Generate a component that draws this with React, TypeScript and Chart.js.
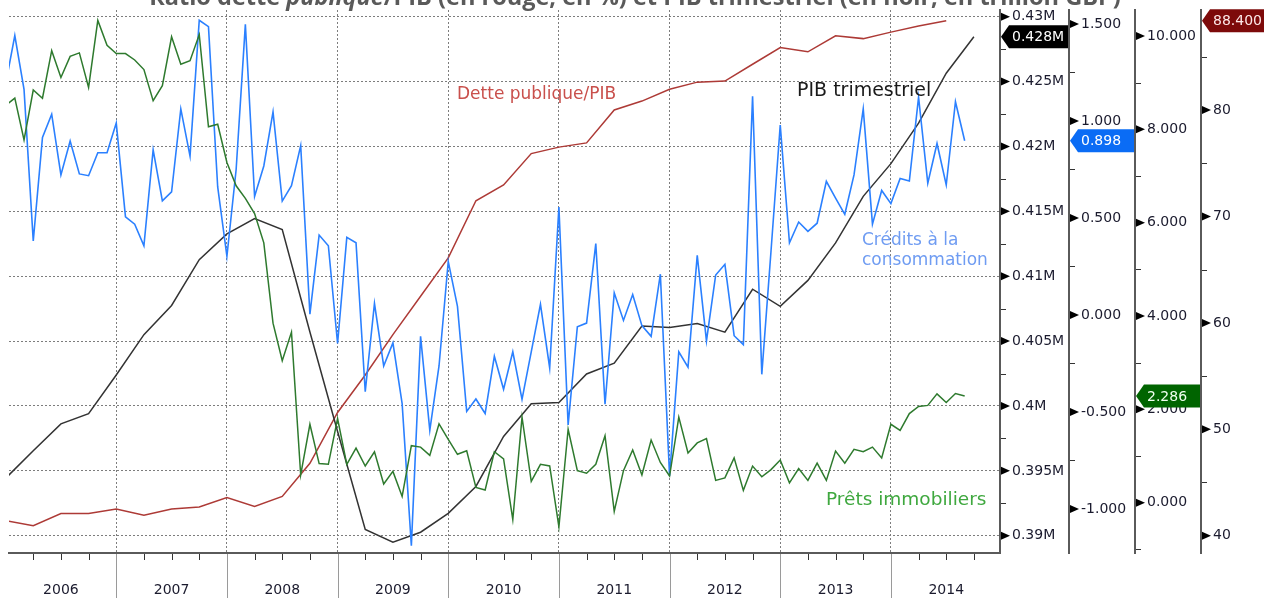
import { useEffect, useRef } from 'react';
import { Chart, registerables } from 'chart.js';

Chart.register(...registerables);

// ---------- data ----------
const years = ['2006', '2007', '2008', '2009', '2010', '2011', '2012', '2013', '2014'];

// Crédits à la consommation, monthly from Jan 2006
const creditsMonthly = [
  1.19, 1.44, 1.163, 0.381, 0.915, 1.035, 0.722, 0.897, 0.727, 0.718, 0.836, 0.836,
  0.989, 0.506, 0.468, 0.357, 0.851, 0.588, 0.635, 1.062, 0.819, 1.519, 1.486, 0.66,
  0.302, 0.75, 1.498, 0.611, 0.768, 1.047, 0.587, 0.666, 0.873, 0.004, 0.412, 0.357,
  -0.147, 0.4, 0.372, -0.396, 0.059, -0.263, -0.144, -0.457, -1.19, -0.11, -0.595, -0.263,
  0.276, 0.044, -0.497, -0.433, -0.508, -0.213, -0.383, -0.19, -0.435, -0.19, 0.055, -0.273,
  0.556, -0.567, -0.061, -0.042, 0.368, -0.46, 0.114, -0.028, 0.105, -0.055, -0.11, 0.21,
  -0.83, -0.19, -0.269, 0.307, -0.134, 0.206, 0.261, -0.107, -0.153, 1.127, -0.306, 0.33,
  0.979, 0.372, 0.479, 0.431, 0.473, 0.689, 0.602, 0.519, 0.722, 1.062, 0.468, 0.642,
  0.574, 0.703, 0.69, 1.123, 0.679, 0.884, 0.67, 1.099, 0.898,
];

// Prêts immobiliers, monthly from Jan 2006
const pretsMonthly = [
  8.51, 8.667, 7.772, 8.843, 8.667, 9.685, 9.11, 9.563, 9.638, 8.897, 10.334, 9.8,
  9.623, 9.623, 9.486, 9.28, 8.614, 8.935, 9.983, 9.394, 9.47, 10.03, 8.054, 8.108,
  7.29, 6.79, 6.52, 6.195, 5.567, 3.846, 3.043, 3.655, 0.594, 1.68, 0.838, 0.823,
  1.802, 0.823, 1.168, 0.786, 1.091, 0.401, 0.671, 0.135, 1.221, 1.191, 1.013, 1.688,
  1.358, 1.037, 1.114, 0.326, 0.272, 1.091, 0.938, -0.362, 1.834, 0.456, 0.823, 0.786,
  -0.516, 1.573, 0.686, 0.632, 0.823, 1.436, -0.186, 0.686, 1.129, 0.594, 1.343, 0.861,
  0.572, 1.834, 1.067, 1.281, 1.374, 0.478, 0.531, 0.96, 0.264, 0.784, 0.555, 0.709,
  0.915, 0.424, 0.731, 0.478, 0.846, 0.478, 1.106, 0.846, 1.144, 1.091, 1.191, 0.96,
  1.68, 1.549, 1.909, 2.063, 2.085, 2.331, 2.147, 2.338, 2.286,
];

// PIB trimestriel, quarterly from Q1 2006
const pibQuarterly = [
  0.39443, 0.39655, 0.39862, 0.39941, 0.40239, 0.4055, 0.40775, 0.41128,
  0.41326, 0.41444, 0.4136, 0.4057, 0.39803, 0.39049, 0.3895, 0.39027,
  0.39173, 0.3938, 0.39765, 0.40018, 0.40027, 0.40247, 0.4033, 0.40616,
  0.40605, 0.40635, 0.40569, 0.409, 0.40768, 0.40968, 0.41257, 0.41616,
  0.41868, 0.4218, 0.42565, 0.42846,
];

// Dette publique / PIB (%), quarterly from Q1 2006
const detteQuarterly = [
  41.41, 40.94, 42.08, 42.08, 42.51, 41.91, 42.51, 42.69,
  43.59, 42.75, 43.69, 46.8, 51.58, 55.1, 58.9, 62.5,
  66.11, 71.48, 72.96, 75.91, 76.52, 76.92, 80.01, 80.85,
  81.96, 82.63, 82.73, 84.31, 85.88, 85.48, 86.99, 86.72,
  87.33, 87.9, 88.4,
];

const pibMajorTicks = [0.39, 0.395, 0.4, 0.405, 0.41, 0.415, 0.42, 0.425, 0.43];
const pibTickLabels = ['0.39M', '0.395M', '0.4M', '0.405M', '0.41M', '0.415M', '0.42M', '0.425M', '0.43M'];
const creditMajorTicks = [-1, -0.5, 0, 0.5, 1, 1.5];
const creditTickLabels = ['-1.000', '-0.500', '0.000', '0.500', '1.000', '1.500'];
const pretMajorTicks = [0, 2, 4, 6, 8, 10];
const pretTickLabels = ['0.000', '2.000', '4.000', '6.000', '8.000', '10.000'];
const detteMajorTicks = [40, 50, 60, 70, 80];
const detteTickLabels = ['40', '50', '60', '70', '80'];

const titleParts = [
  { text: 'Ratio dette ', italic: false },
  { text: 'publique', italic: true },
  { text: '/PIB (en rouge, en %) et PIB trimestriel (en noir, en trillion GBP)', italic: false },
];
const labelDette = 'Dette publique/PIB';
const labelPib = 'PIB trimestriel';
const labelCredits = ['Crédits à la', 'consommation'];
const labelPrets = 'Prêts immobiliers';

// ---------- styling ----------
const C_BLUE = '#2b80ff';
const C_GREEN = '#2e7a2e';
const C_BLACK = '#333333';
const C_RED = '#ad3a36';
const AXIS_TXT = '#1b1b2e';
const FONT = '"DejaVu Sans"';
const GRID = '#7d7d7d';

const withMinors = (majors: number[], min: number, max: number) => {
  const step = majors[1] - majors[0];
  const out: number[] = [];
  for (let i = -1; i < majors.length; i++) {
    const base = i < 0 ? majors[0] - step : majors[i];
    const mid = base + step / 2;
    if (mid >= min && mid <= max) out.push(mid);
  }
  return majors.concat(out).sort((a, b) => a - b);
};

const isIn = (arr: number[], v: number) => arr.findIndex((m) => Math.abs(m - v) < 1e-9);

function yAxis(
  min: number, max: number, majors: number[], labels: string[],
  weight: number, width: number, grid: boolean,
) {
  const all = withMinors(majors, min, max);
  return {
    type: 'linear' as const,
    position: 'right' as const,
    min, max, weight,
    afterBuildTicks: (s: any) => { s.ticks = all.map((v) => ({ value: v })); },
    afterFit: (s: any) => { s.width = width; s.paddingTop = 0; s.paddingBottom = 0; },
    ticks: {
      autoSkip: false,
      padding: 12,
      color: AXIS_TXT,
      font: { family: FONT, size: 14 },
      callback: (v: any) => { const i = isIn(majors, Number(v)); return i >= 0 ? labels[i] : ''; },
    },
    grid: {
      display: grid,
      drawOnChartArea: grid,
      drawTicks: false,
      lineWidth: 1,
      color: (c: any) => (c.tick && isIn(majors, c.tick.value) >= 0 ? GRID : 'rgba(0,0,0,0)'),
    },
    border: { display: true, color: '#5a5a5a', width: 2, dash: [2, 2] },
  };
}

const quarterTicks: number[] = [];
for (let m = 3; m < 108; m += 3) quarterTicks.push(m);

const overlay = {
  id: 'overlay',
  afterDraw(chart: any) {
    const ctx: CanvasRenderingContext2D = chart.ctx;
    const area = chart.chartArea;
    const H = chart.height;
    const W = chart.width;
    const xs = chart.scales.x;
    ctx.save();

    // x-axis quarter ticks & year separators
    for (const m of quarterTicks) {
      const px = Math.round(xs.getPixelForValue(m)) + 0.5;
      ctx.beginPath();
      if (m % 12 === 0) {
        ctx.strokeStyle = '#9a9a9a';
        ctx.lineWidth = 1;
        ctx.moveTo(px, area.bottom + 1);
        ctx.lineTo(px, H);
      } else {
        ctx.strokeStyle = '#333';
        ctx.lineWidth = 1;
        ctx.moveTo(px, area.bottom + 1);
        ctx.lineTo(px, area.bottom + 7);
      }
      ctx.stroke();
    }

    // y tick marks: triangles for majors, short lines for minors
    const axes: [string, number[]][] = [
      ['yPib', pibMajorTicks], ['yCred', creditMajorTicks], ['yPret', pretMajorTicks], ['yDette', detteMajorTicks],
    ];
    for (const [id, majors] of axes) {
      const s = chart.scales[id];
      for (const t of s.ticks) {
        const py = s.getPixelForValue(t.value);
        if (isIn(majors, t.value) >= 0) {
          ctx.fillStyle = '#000';
          ctx.beginPath();
          ctx.moveTo(s.left + 1, py - 4);
          ctx.lineTo(s.left + 10, py);
          ctx.lineTo(s.left + 1, py + 4);
          ctx.closePath();
          ctx.fill();
        } else {
          ctx.strokeStyle = '#333';
          ctx.lineWidth = 1;
          ctx.beginPath();
          ctx.moveTo(s.left + 1, Math.round(py) + 0.5);
          ctx.lineTo(s.left + 6, Math.round(py) + 0.5);
          ctx.stroke();
        }
      }
    }

    // last-value badges
    const badge = (id: string, right: number, value: number, text: string, fill: string, txt: string) => {
      const s = chart.scales[id];
      const y = s.getPixelForValue(value);
      const l = s.left + 1;
      const h = 11.5;
      ctx.fillStyle = fill;
      ctx.beginPath();
      ctx.moveTo(l, y);
      ctx.lineTo(l + 8, y - h);
      ctx.lineTo(right, y - h);
      ctx.lineTo(right, y + h);
      ctx.lineTo(l + 8, y + h);
      ctx.closePath();
      ctx.fill();
      ctx.fillStyle = txt;
      ctx.font = `14px ${FONT}`;
      ctx.textAlign = 'left';
      ctx.textBaseline = 'middle';
      ctx.fillText(text, s.left + 12, y + 1);
    };
    const lastPib = pibQuarterly[pibQuarterly.length - 1];
    const lastCred = creditsMonthly[creditsMonthly.length - 1];
    const lastPret = pretsMonthly[pretsMonthly.length - 1];
    const lastDette = detteQuarterly[detteQuarterly.length - 1];
    badge('yPib', chart.scales.yCred.left - 1, lastPib, lastPib.toFixed(3) + 'M', '#000000', '#ffffff');
    badge('yCred', chart.scales.yPret.left - 1, lastCred, lastCred.toFixed(3), '#0a6cf5', '#ffffff');
    badge('yPret', chart.scales.yDette.left - 1, lastPret, lastPret.toFixed(3), '#006400', '#f0fff0');
    badge('yDette', W, lastDette, lastDette.toFixed(3), '#7d0a0a', '#fde8e8');

    // series labels
    ctx.textAlign = 'left';
    ctx.textBaseline = 'middle';
    ctx.font = `17px ${FONT}`;
    ctx.fillStyle = '#c9504c';
    ctx.fillText(labelDette, 457, 95);
    ctx.font = `19px ${FONT}`;
    ctx.fillStyle = '#1a1a1a';
    ctx.fillText(labelPib, 797, 91);
    ctx.font = `17px ${FONT}`;
    ctx.fillStyle = '#6f9cf2';
    ctx.fillText(labelCredits[0], 862, 241);
    ctx.fillText(labelCredits[1], 862, 261);
    ctx.font = `18.5px ${FONT}`;
    ctx.fillStyle = '#3fa83f';
    ctx.fillText(labelPrets, 826, 500);

    // title (mostly cut off at the top)
    const base = 21;
    const fontFor = (it: boolean, size: number) => `${it ? 'italic ' : ''}bold ${size}px "Open Sans"`;
    let total = 0;
    for (const p of titleParts) { ctx.font = fontFor(p.italic, base); total += ctx.measureText(p.text).width; }
    const size = base * 972 / total;
    let tw = 0;
    const widths: number[] = [];
    for (const p of titleParts) { ctx.font = fontFor(p.italic, size); const w = ctx.measureText(p.text).width; widths.push(w); tw += w; }
    let x = 635 - tw / 2;
    ctx.fillStyle = '#5a5a5a';
    ctx.textBaseline = 'alphabetic';
    titleParts.forEach((p, i) => {
      ctx.font = fontFor(p.italic, size);
      ctx.fillText(p.text, x, 5);
      x += widths[i];
    });

    ctx.restore();
  },
};

export default function App() {
  const ref = useRef<HTMLCanvasElement | null>(null);

  useEffect(() => {
    if (!ref.current) return;
    const chart = new Chart(ref.current, {
      type: 'line',
      data: {
        datasets: [
          {
            label: 'Prêts immobiliers',
            data: pretsMonthly.map((v, i) => ({ x: i, y: v })),
            yAxisID: 'yPret', borderColor: C_GREEN, borderWidth: 1.5, pointRadius: 0, tension: 0, order: 0,
          },
          {
            label: 'Crédits à la consommation',
            data: creditsMonthly.map((v, i) => ({ x: i, y: v })),
            yAxisID: 'yCred', borderColor: C_BLUE, borderWidth: 1.6, pointRadius: 0, tension: 0, order: 1,
          },
          {
            label: 'PIB trimestriel',
            data: pibQuarterly.map((v, i) => ({ x: i * 3, y: v })),
            yAxisID: 'yPib', borderColor: C_BLACK, borderWidth: 1.5, pointRadius: 0, tension: 0, order: 2,
          },
          {
            label: 'Dette publique/PIB',
            data: detteQuarterly.map((v, i) => ({ x: i * 3, y: v })),
            yAxisID: 'yDette', borderColor: C_RED, borderWidth: 1.5, pointRadius: 0, tension: 0, order: 3,
          },
        ],
      },
      options: {
        animation: false,
        responsive: false,
        maintainAspectRatio: false,
        layout: { padding: { left: 9, top: 10, right: 0, bottom: 0 } },
        plugins: { legend: { display: false }, tooltip: { enabled: false }, title: { display: false } },
        scales: {
          x: {
            type: 'linear',
            min: 0.37,
            max: 107.83,
            afterBuildTicks: (s: any) => { s.ticks = quarterTicks.map((v) => ({ value: v })); },
            afterFit: (s: any) => { s.height = 45; s.paddingLeft = 0; s.paddingRight = 0; },
            ticks: {
              autoSkip: false,
              maxRotation: 0,
              minRotation: 0,
              padding: 29,
              color: AXIS_TXT,
              font: { family: FONT, size: 14 },
              callback: (v: any) => (Number(v) % 12 === 6 ? years[(Number(v) - 6) / 12] : ''),
            },
            grid: {
              display: true,
              drawOnChartArea: true,
              drawTicks: false,
              lineWidth: 1,
              color: (c: any) => (c.tick && c.tick.value % 12 === 0 ? GRID : 'rgba(0,0,0,0)'),
            },
            border: { display: true, color: '#5a5a5a', width: 2, dash: [2, 2] },
          },
          yPib: yAxis(0.38867, 0.43052, pibMajorTicks, pibTickLabels, 1, 69, true),
          yCred: yAxis(-1.227, 1.572, creditMajorTicks, creditTickLabels, 2, 66, false),
          yPret: yAxis(-1.078, 10.557, pretMajorTicks, pretTickLabels, 3, 66, false),
          yDette: yAxis(38.37, 89.41, detteMajorTicks, detteTickLabels, 4, 63, false),
        } as any,
      },
      plugins: [overlay],
    });
    return () => chart.destroy();
  }, []);

  return (
    <div style={{ position: 'absolute', left: 0, top: 0, width: 1264, height: 598, background: '#fff' }}>
      <canvas ref={ref} width={1264} height={598} style={{ display: 'block', width: 1264, height: 598 }} />
    </div>
  );
}
